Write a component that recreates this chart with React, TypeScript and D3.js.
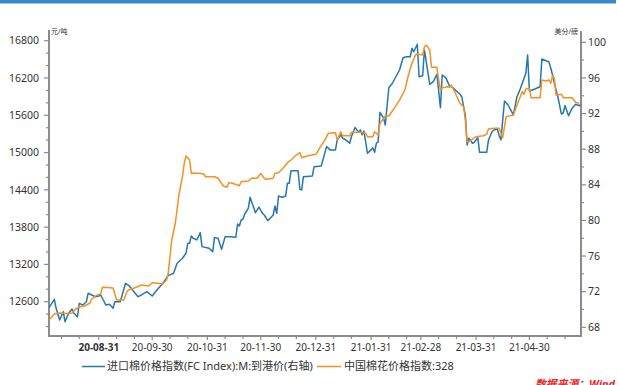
import React from "react";
import * as d3 from "d3";

// 进口棉价格指数(FC Index):M:到港价 (美分/磅, right axis)
const importDates = [
  "2020-08-03","2020-08-06","2020-08-07","2020-08-09","2020-08-11","2020-08-12","2020-08-14","2020-08-16","2020-08-17","2020-08-19",
  "2020-08-20","2020-08-22","2020-08-24","2020-08-25","2020-08-27","2020-08-29","2020-08-31","2020-09-01","2020-09-02","2020-09-04",
  "2020-09-06","2020-09-08","2020-09-09","2020-09-12","2020-09-13","2020-09-15","2020-09-17","2020-09-19","2020-09-22","2020-09-24",
  "2020-09-27","2020-09-30","2020-10-03","2020-10-06","2020-10-09","2020-10-12","2020-10-14","2020-10-17","2020-10-19","2020-10-20",
  "2020-10-21","2020-10-22","2020-10-23","2020-10-25","2020-10-26","2020-10-27","2020-10-28","2020-11-01","2020-11-03","2020-11-04",
  "2020-11-06","2020-11-08","2020-11-10","2020-11-13","2020-11-16","2020-11-17","2020-11-18","2020-11-19","2020-11-20","2020-11-21",
  "2020-11-23","2020-11-24","2020-11-26","2020-11-27","2020-11-29","2020-12-01","2020-12-02","2020-12-04","2020-12-07","2020-12-08",
  "2020-12-09","2020-12-10","2020-12-12","2020-12-14","2020-12-15","2020-12-16","2020-12-17","2020-12-20","2020-12-21","2020-12-22",
  "2020-12-23","2020-12-24","2020-12-29","2020-12-30","2021-01-03","2021-01-06","2021-01-08","2021-01-11","2021-01-12","2021-01-14",
  "2021-01-15","2021-01-16","2021-01-18","2021-01-19","2021-01-20","2021-01-22","2021-01-24","2021-01-25","2021-01-26","2021-01-27",
  "2021-01-29","2021-01-31","2021-02-01","2021-02-02","2021-02-03","2021-02-04","2021-02-05","2021-02-07","2021-02-08","2021-02-10",
  "2021-02-12","2021-02-16","2021-02-18","2021-02-20","2021-02-22","2021-02-23","2021-02-24","2021-02-26","2021-02-27","2021-03-01",
  "2021-03-02","2021-03-05","2021-03-07","2021-03-09","2021-03-11","2021-03-12","2021-03-14","2021-03-15","2021-03-16","2021-03-18",
  "2021-03-20","2021-03-22","2021-03-23","2021-03-24","2021-03-25","2021-03-26","2021-03-27","2021-03-29","2021-03-30","2021-04-01",
  "2021-04-02","2021-04-06","2021-04-07","2021-04-09","2021-04-10","2021-04-12","2021-04-13","2021-04-14","2021-04-15","2021-04-16",
  "2021-04-18","2021-04-21","2021-04-23","2021-04-25","2021-04-27","2021-04-28","2021-04-29","2021-04-30","2021-05-03","2021-05-06",
  "2021-05-07","2021-05-11","2021-05-12","2021-05-13","2021-05-14","2021-05-16","2021-05-18","2021-05-19","2021-05-20","2021-05-22",
  "2021-05-24","2021-05-26","2021-05-28","2021-05-29"
];
const importValues = [
  70.2,71.14,70.13,68.82,69.75,68.63,69.57,70.05,69.57,69.19,
  70.69,70.5,70.87,71.82,71.63,71.44,71.51,71.63,71.26,70.5,
  70.58,70.13,70.87,70.87,71.51,72.94,72.67,72.19,71.44,71.63,
  72.0,71.51,72.27,72.94,73.82,74.06,75.19,75.75,76.31,77.44,
  77.44,78.26,78.0,77.81,78.18,78.63,77.06,76.88,76.5,78.07,
  78.0,76.76,78.18,78.18,78.11,79.6,79.38,80.05,80.13,80.72,
  81.36,82.6,81.48,80.87,81.48,80.8,80.61,79.97,80.61,81.62,
  80.8,82.74,82.6,82.74,84.17,84.17,85.58,85.58,85.58,83.49,
  83.41,84.91,84.99,86.03,86.11,88.29,87.92,87.92,89.04,89.6,
  89.23,89.15,88.85,88.67,89.42,90.43,89.91,90.17,89.61,90.04,
  87.54,87.92,88.17,87.65,88.66,88.85,92.14,91.53,90.72,94.9,
  95.4,96.89,98.27,98.38,98.38,99.33,98.94,99.78,96.14,96.25,
  99.14,95.28,95.58,96.41,92.66,96.33,96.03,95.58,95.13,94.9,
  94.53,94.16,93.89,92.77,91.84,88.47,89.22,88.66,88.77,89.29,
  87.65,87.65,89.03,89.96,90.15,90.26,89.51,89.03,91.27,93.41,
  92.96,91.84,93.89,94.83,95.96,96.52,98.57,94.53,94.76,95.01,
  98.12,97.79,97.11,96.33,95.43,93.86,91.95,92.06,92.9,91.76,
  92.59,93.04,92.88,93.04
];

// 中国棉花价格指数:328 (元/吨, left axis)
const chinaDates = [
  "2020-08-03","2020-08-06","2020-08-09","2020-08-13","2020-08-16","2020-08-18","2020-08-20","2020-08-23","2020-08-26","2020-08-27",
  "2020-08-30","2020-09-01","2020-09-02","2020-09-05","2020-09-08","2020-09-10","2020-09-12","2020-09-14","2020-09-16","2020-09-18",
  "2020-09-20","2020-09-24","2020-09-28","2020-09-30","2020-10-03","2020-10-06","2020-10-08","2020-10-09","2020-10-11","2020-10-13",
  "2020-10-15","2020-10-17","2020-10-18","2020-10-19","2020-10-21","2020-10-22","2020-10-26","2020-10-29","2020-10-30","2020-11-04",
  "2020-11-06","2020-11-09","2020-11-11","2020-11-12","2020-11-14","2020-11-18","2020-11-19","2020-11-23","2020-11-25","2020-11-28",
  "2020-11-30","2020-12-02","2020-12-03","2020-12-07","2020-12-08","2020-12-10","2020-12-13","2020-12-15","2020-12-17","2020-12-20",
  "2020-12-22","2020-12-23","2020-12-26","2020-12-31","2021-01-02","2021-01-05","2021-01-07","2021-01-11","2021-01-12","2021-01-14",
  "2021-01-15","2021-01-19","2021-01-20","2021-01-25","2021-01-28","2021-01-29","2021-02-01","2021-02-02","2021-02-04","2021-02-05",
  "2021-02-08","2021-02-10","2021-02-12","2021-02-16","2021-02-19","2021-02-21","2021-02-23","2021-02-25","2021-02-26","2021-03-01",
  "2021-03-02","2021-03-03","2021-03-05","2021-03-06","2021-03-09","2021-03-10","2021-03-11","2021-03-12","2021-03-15","2021-03-16",
  "2021-03-17","2021-03-19","2021-03-22","2021-03-24","2021-03-25","2021-03-26","2021-03-28","2021-03-29","2021-03-31","2021-04-04",
  "2021-04-06","2021-04-07","2021-04-10","2021-04-13","2021-04-14","2021-04-15","2021-04-16","2021-04-17","2021-04-21","2021-04-23",
  "2021-04-26","2021-04-27","2021-04-28","2021-04-30","2021-05-01","2021-05-06","2021-05-07","2021-05-09","2021-05-11","2021-05-12",
  "2021-05-13","2021-05-14","2021-05-15","2021-05-18","2021-05-19","2021-05-24","2021-05-26","2021-05-28"
];
const chinaValues = [
  12306,12402,12418,12410,12418,12483,12515,12531,12579,12643,
  12708,12719,12832,12828,12820,12627,12627,12627,12777,12804,
  12820,12869,12853,12906,12896,12885,12949,13057,13593,13866,
  14317,14611,14827,14945,14880,14666,14666,14655,14611,14611,
  14586,14462,14441,14515,14505,14467,14531,14542,14590,14586,
  14666,14586,14570,14586,14666,14676,14763,14837,14880,14960,
  14998,14917,14944,14971,15068,15201,15309,15318,15201,15335,
  15270,15270,15325,15325,15309,15254,15254,15335,15282,15470,
  15588,15588,15668,15845,16007,16248,16436,16570,16586,16570,
  16703,16731,16650,16372,16372,16168,16007,16044,16060,16044,
  16087,15979,15793,15738,15524,15175,15186,15218,15255,15271,
  15293,15378,15390,15390,15309,15239,15416,15577,15604,15765,
  15979,15937,16022,16034,15883,15883,16168,16152,16168,16115,
  16237,16195,15926,15938,15883,15883,15809,15793
];

const leftTicks = [12600, 13200, 13800, 14400, 15000, 15600, 16200, 16800];
const leftMinorTicks = [12200, 12400, 12800, 13000, 13400, 13600, 14000, 14200, 14600, 14800, 15200, 15400, 15800, 16000, 16400, 16600];
const rightTicks = [68, 72, 76, 80, 84, 88, 92, 96, 100];
const rightMinorTicks = [70, 74, 78, 82, 86, 90, 94, 98];
const xTickDates = ["2020-08-31","2020-09-30","2020-10-31","2020-11-30","2020-12-31","2021-01-31","2021-02-28","2021-03-31","2021-04-30"];
const xTickLabels = ["20-08-31","20-09-30","20-10-31","20-11-30","20-12-31","21-01-31","21-02-28","21-03-31","21-04-30"];
const xDomain = ["2020-08-03", "2021-05-29"];

const seriesNames = ["进口棉价格指数(FC Index):M:到港价(右轴)", "中国棉花价格指数:328"];
const colors = ["#2577b1", "#f7901e"];
const sourceText = "数据来源：Wind";

const FONT = '"Noto Sans", "Noto Sans CJK SC", sans-serif';

export default function App() {
  const W = 618, H = 385;
  const left = 49, right = 581, top = 30, bottom = 336;
  const parse = d3.timeParse("%Y-%m-%d");
  const x = d3.scaleTime().domain(xDomain.map((d) => parse(d) as Date)).range([left, right]);
  const yL = d3.scaleLinear().domain([12600, 16800]).range([301.7, 40.7]);
  const yR = d3.scaleLinear().domain([68, 100]).range([327.3, 42.3]);

  const importData = importDates.map((d, i) => ({ date: parse(d) as Date, v: importValues[i] }));
  const chinaData = chinaDates.map((d, i) => ({ date: parse(d) as Date, v: chinaValues[i] }));

  const lineR = d3.line<{ date: Date; v: number }>().x((d) => x(d.date)).y((d) => yR(d.v));
  const lineL = d3.line<{ date: Date; v: number }>().x((d) => x(d.date)).y((d) => yL(d.v));

  const months = d3.timeMonth.range(new Date(2020, 7, 1), new Date(2021, 5, 1));
  const minorX: Date[] = [];
  months.forEach((m) => {
    [10, 20].forEach((day) => {
      const dt = new Date(m.getFullYear(), m.getMonth(), day);
      const px = x(dt);
      if (px > left + 1 && px < right - 1) minorX.push(dt);
    });
  });

  const axisColor = "#8c8c8c";
  const textColor = "#333";

  return (
    <div style={{ position: "fixed", left: 0, top: 0, width: W, height: H, background: "#fff" }}>
      <svg width={W} height={H} style={{ display: "block" }} fontFamily={FONT}>
        <rect x={0} y={0} width={W} height={H} fill="#fff" />
        <rect x={0} y={0} width={W - 2} height={3} fill="#3a87cc" />
        <rect x={0} y={3} width={W - 2} height={1} fill="#9cc5ea" />

        <defs>
          <clipPath id="plot">
            <rect x={left} y={top - 5} width={right - left} height={bottom - top + 5} />
          </clipPath>
        </defs>

        {/* axes */}
        <line x1={left} x2={left} y1={top} y2={bottom} stroke={axisColor} strokeWidth={2} />
        <line x1={right} x2={right} y1={top + 1} y2={bottom} stroke={axisColor} strokeWidth={2} />
        <line x1={left - 1} x2={right + 1} y1={bottom} y2={bottom} stroke={axisColor} strokeWidth={2} />

        {leftTicks.map((t) => (
          <g key={"l" + t}>
            <line x1={left - 5} x2={left} y1={yL(t)} y2={yL(t)} stroke={axisColor} strokeWidth={1.2} />
            <text x={left - 10} y={yL(t)} dy="0.35em" textAnchor="end" fontSize={10.5} fill={textColor}>{t}</text>
          </g>
        ))}
        {leftMinorTicks.map((t) => (
          <line key={"lm" + t} x1={left - 3} x2={left} y1={yL(t)} y2={yL(t)} stroke={axisColor} strokeWidth={1.2} />
        ))}
        {rightTicks.map((t) => (
          <g key={"r" + t}>
            <line x1={right} x2={right + 5} y1={yR(t)} y2={yR(t)} stroke={axisColor} strokeWidth={1.2} />
            <text x={right + 7} y={yR(t)} dy="0.35em" textAnchor="start" fontSize={10.5} fill={textColor}>{t}</text>
          </g>
        ))}
        {rightMinorTicks.map((t) => (
          <line key={"rm" + t} x1={right} x2={right + 3} y1={yR(t)} y2={yR(t)} stroke={axisColor} strokeWidth={1.2} />
        ))}
        {xTickDates.map((d, i) => {
          const px = x(parse(d) as Date);
          return (
            <g key={"x" + d}>
              <line x1={px} x2={px} y1={bottom} y2={bottom + 4} stroke={axisColor} strokeWidth={1.2} />
              <text x={px} y={bottom + 11} dy="0.35em" textAnchor="middle" fontSize={10} fill={textColor}
                fontWeight={i === 0 ? "bold" : "normal"}>{xTickLabels[i]}</text>
            </g>
          );
        })}
        {minorX.map((d) => (
          <line key={"xm" + d.getTime()} x1={x(d)} x2={x(d)} y1={bottom} y2={bottom + 3} stroke={axisColor} strokeWidth={1.2} />
        ))}

        <text x={left + 2} y={top + 4} fontSize={7} fill={textColor}>元/吨</text>
        <text x={right - 3} y={top + 4} fontSize={7} textAnchor="end" fill={textColor}>美分/磅</text>

        <g clipPath="url(#plot)">
          <path d={lineR(importData) || ""} fill="none" stroke={colors[0]} strokeWidth={1.5} strokeLinejoin="round" />
          <path d={lineL(chinaData) || ""} fill="none" stroke={colors[1]} strokeWidth={1.5} strokeLinejoin="round" />
        </g>

        {/* legend */}
        <line x1={82} x2={105} y1={366.5} y2={366.5} stroke={colors[0]} strokeWidth={1.5} />
        <text x={107} y={366.5} dy="0.35em" fontSize={11} fill={textColor}>{seriesNames[0]}</text>
        <line x1={317} x2={341} y1={366.5} y2={366.5} stroke={colors[1]} strokeWidth={1.5} />
        <text x={344} y={366.5} dy="0.35em" fontSize={11} fill={textColor}>{seriesNames[1]}</text>

        <text x={535} y={388} fontSize={11} fontStyle="italic" fontWeight="bold" fill="#e8262a"
          textLength={80} lengthAdjust="spacingAndGlyphs">{sourceText}</text>
      </svg>
    </div>
  );
}
